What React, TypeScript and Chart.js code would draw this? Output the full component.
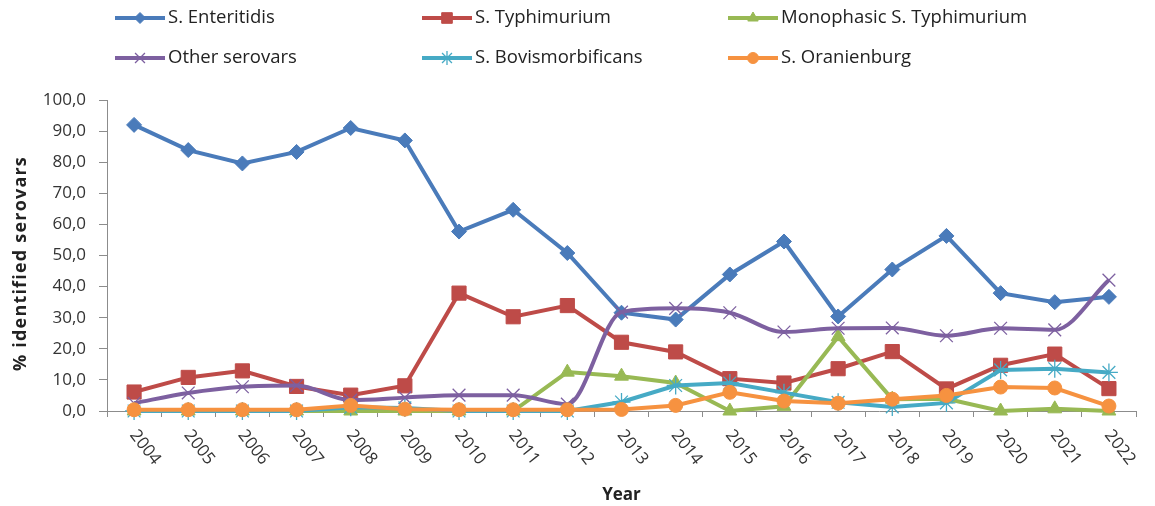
import React, { useEffect, useRef } from 'react';
import { Chart, registerables } from 'chart.js';
import { drawPoint } from 'chart.js/helpers';

Chart.register(...registerables);

const years = ['2004', '2005', '2006', '2007', '2008', '2009', '2010', '2011', '2012', '2013', '2014', '2015', '2016', '2017', '2018', '2019', '2020', '2021', '2022'];
const enteritidis = [92.0, 83.9, 79.6, 83.3, 91.0, 87.0, 57.7, 64.7, 50.8, 31.6, 29.4, 43.9, 54.5, 30.4, 45.5, 56.3, 37.9, 35.0, 36.7];
const typhimurium = [6.1, 10.8, 12.9, 7.9, 5.1, 8.1, 37.9, 30.3, 33.9, 22.1, 19.0, 10.4, 9.0, 13.6, 19.1, 7.1, 14.7, 18.3, 7.2];
const monophasic = [0, 0, 0, 0, 0, 0, 0, 0, 12.5, 11.2, 9.0, 0, 1.5, 23.9, 3.8, 3.9, 0, 0.7, 0];
const otherSerovars = [2.5, 5.8, 7.8, 8.2, 3.5, 4.3, 5.1, 5.1, 2.2, 31.8, 33.0, 31.6, 25.4, 26.6, 26.7, 24.2, 26.6, 26.1, 42.1];
const bovismorbificans = [0, 0, 0, 0, 1.2, 1.0, 0, 0, 0, 2.9, 8.2, 9.0, 5.9, 2.8, 1.3, 2.6, 13.2, 13.6, 12.4];
const oranienburg = [0.4, 0.4, 0.4, 0.4, 1.8, 0.6, 0.4, 0.4, 0.4, 0.5, 1.8, 6.0, 3.2, 2.5, 3.8, 5.0, 7.7, 7.4, 1.6];

const seriesNames = ['S. Enteritidis', 'S. Typhimurium', 'Monophasic S. Typhimurium', 'Other serovars', 'S. Bovismorbificans', 'S. Oranienburg'];
const yTickValues = [0, 10, 20, 30, 40, 50, 60, 70, 80, 90, 100];

const FONT = '"Open Sans", "Liberation Sans", sans-serif';

const styles = [
  { color: '#4A7BBA', pointStyle: 'rectRot', radius: 7.5, pbw: 1, legendRadius: 5.5, smooth: false },
  { color: '#BE4B48', pointStyle: 'rect', radius: 10, pbw: 1, legendRadius: 7.5, smooth: false },
  { color: '#98B954', pointStyle: 'triangle', radius: 8, pbw: 1, legendRadius: 6, smooth: false },
  { color: '#7D60A0', pointStyle: 'crossRot', radius: 9, pbw: 1.3, legendRadius: 7, smooth: true },
  { color: '#46AAC5', pointStyle: 'star', radius: 9, pbw: 1.3, legendRadius: 7, smooth: false },
  { color: '#F69240', pointStyle: 'circle', radius: 7, pbw: 1, legendRadius: 5.5, smooth: false },
];

const seriesData = [enteritidis, typhimurium, monophasic, otherSerovars, bovismorbificans, oranienburg];

const customPlugin = {
  id: 'customDecor',
  afterDraw(chart: any) {
    const ctx: CanvasRenderingContext2D = chart.ctx;
    const area = chart.chartArea;
    const xs = chart.scales.x;

    // x labels rotated clockwise
    ctx.save();
    ctx.font = `17px ${FONT}`;
    ctx.fillStyle = '#333333';
    ctx.textAlign = 'left';
    ctx.textBaseline = 'middle';
    years.forEach((label, i) => {
      const px = xs.getPixelForValue(i);
      ctx.save();
      ctx.translate(px - 1, area.bottom + 21);
      ctx.rotate((52 * Math.PI) / 180);
      ctx.fillText(label, 0, 0);
      ctx.restore();
    });
    ctx.restore();

    // axis titles
    ctx.save();
    ctx.font = `bold 17px ${FONT}`;
    ctx.fillStyle = '#222222';
    ctx.textAlign = 'center';
    ctx.textBaseline = 'middle';
    ctx.fillText('Year', (area.left + area.right) / 2, 487);
    (ctx as any).letterSpacing = '1.2px';
    ctx.translate(13, (area.top + area.bottom) / 2 + 8);
    ctx.rotate(-Math.PI / 2);
    ctx.font = `bold 18px ${FONT}`;
    ctx.fillText('% identified serovars', 0, 0);
    ctx.restore();

    // legend
    const colX = [107, 414, 720];
    const rowY = [10, 50];
    ctx.save();
    ctx.font = `18.5px ${FONT}`;
    ctx.textAlign = 'left';
    ctx.textBaseline = 'middle';
    seriesNames.forEach((name, i) => {
      const s = styles[i];
      const x = colX[i % 3];
      const y = rowY[Math.floor(i / 3)];
      ctx.strokeStyle = s.color;
      ctx.lineWidth = 4;
      ctx.beginPath();
      ctx.moveTo(x, y);
      ctx.lineTo(x + 50, y);
      ctx.stroke();
      ctx.fillStyle = s.color;
      ctx.strokeStyle = s.color;
      ctx.lineWidth = s.pbw;
      drawPoint(ctx, { pointStyle: s.pointStyle as any, radius: s.legendRadius, rotation: 0, borderWidth: s.pbw }, x + 25, y);
      ctx.fillStyle = '#222222';
      ctx.fillText(name, x + 53, y);
    });
    ctx.restore();
  },
};

export default function App() {
  const ref = useRef<HTMLCanvasElement>(null);
  useEffect(() => {
    const datasets = seriesNames.map((name, i) => ({
      label: name,
      data: seriesData[i],
      borderColor: styles[i].color,
      backgroundColor: styles[i].color,
      pointBackgroundColor: styles[i].color,
      pointBorderColor: styles[i].color,
      pointStyle: styles[i].pointStyle as any,
      pointRadius: styles[i].radius,
      pointBorderWidth: styles[i].pbw,
      borderWidth: 4,
      cubicInterpolationMode: styles[i].smooth ? ('monotone' as const) : ('default' as const),
      tension: styles[i].smooth ? 0.4 : 0,
      order: 5 - i,
      clip: false as any,
      fill: false,
    }));
    const chart = new Chart(ref.current!, {
      type: 'line',
      data: { labels: years, datasets },
      options: {
        animation: false,
        responsive: true,
        maintainAspectRatio: false,
        layout: { padding: { top: 92, right: 9, bottom: 0, left: 0 } },
        plugins: { legend: { display: false }, tooltip: { enabled: false } },
        scales: {
          x: {
            type: 'category',
            offset: true,
            grid: { display: true, offset: true, drawOnChartArea: false, drawTicks: true, tickLength: 6, color: '#8c8c8c' },
            border: { color: '#8c8c8c', width: 1 },
            ticks: { display: false },
            afterFit: (scale: any) => { scale.height = 95; },
          },
          y: {
            min: 0,
            max: 100,
            afterBuildTicks: (scale: any) => { scale.ticks = yTickValues.map((v) => ({ value: v })); },
            grid: { display: true, drawOnChartArea: false, drawTicks: true, tickLength: 8, color: '#8c8c8c' },
            border: { color: '#8c8c8c', width: 1 },
            ticks: {
              padding: 13,
              color: '#333333',
              font: { family: FONT, size: 17 },
              callback: (v: any) => Number(v).toFixed(1).replace('.', ','),
            },
            afterFit: (scale: any) => { scale.width = 99; },
          },
        },
      },
      plugins: [customPlugin],
    });
    return () => chart.destroy();
  }, []);
  return (
    <div style={{ width: 1139, height: 498, position: 'relative' }}>
      <canvas ref={ref} />
    </div>
  );
}
